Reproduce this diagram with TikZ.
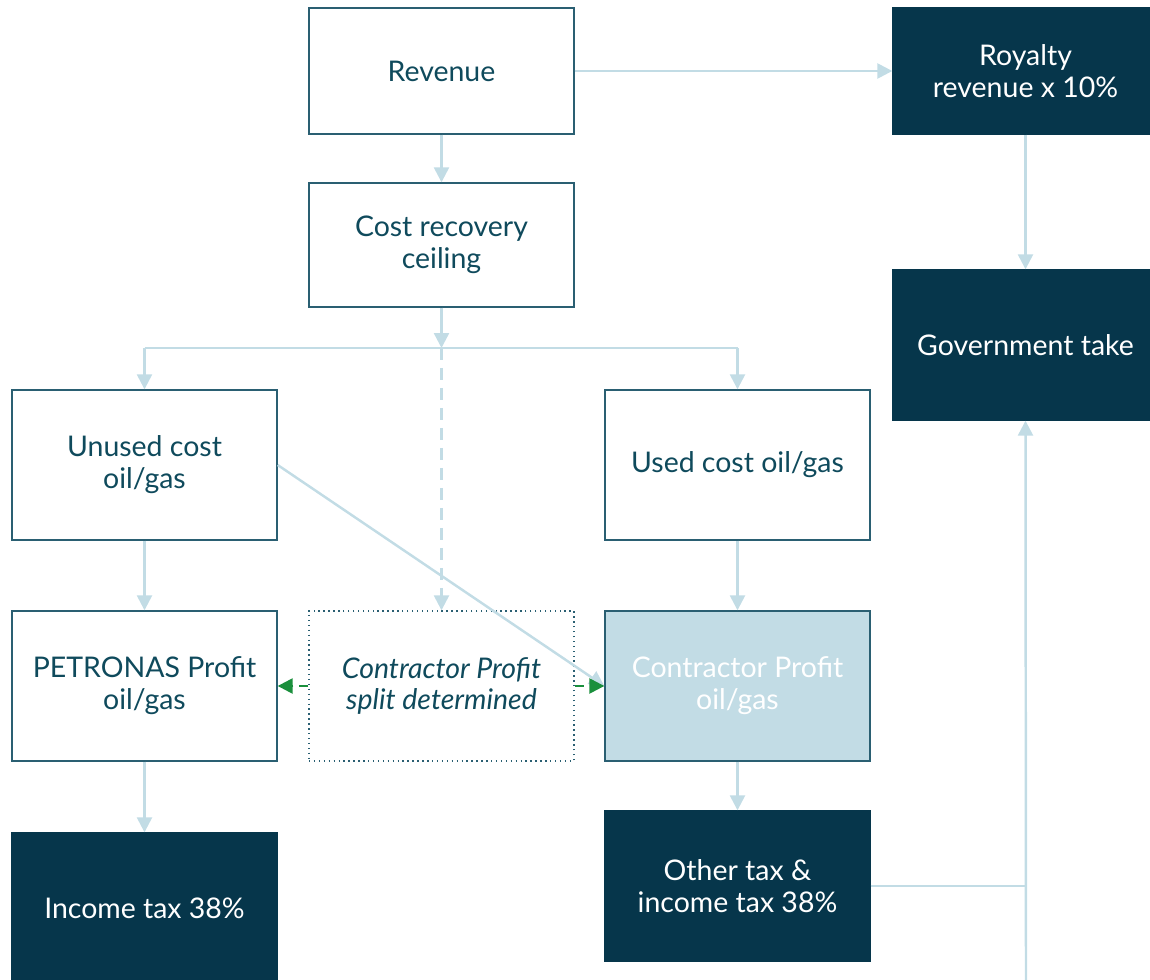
\documentclass[tikz,border=0pt]{standalone}
\usepackage{fontspec}
\setmainfont{Lato}
\usetikzlibrary{arrows.meta}

\definecolor{navy}{HTML}{06364B}
\definecolor{tealtext}{HTML}{0F4A5C}
\definecolor{boxline}{HTML}{2A5F72}
\definecolor{lightline}{HTML}{C2DCE5}
\definecolor{splitgreen}{HTML}{1A8F3C}

\tikzset{
  box/.style={draw=boxline, line width=0.8pt, minimum width=5.3cm, minimum height=3cm,
    align=center, text=tealtext, font=\fontsize{16.2}{18.2}\selectfont, inner sep=0pt},
  darkbox/.style={box, fill=navy, draw=navy, text=white},
  link/.style={lightline, line width=1.4pt},
  conn/.style={link, -{Triangle[length=0.3cm, width=0.3cm]}},
  greenconn/.style={splitgreen, line width=1.4pt, dash pattern=on 0.18cm off 0.12cm,
    -{Triangle[length=0.3cm, width=0.3cm]}}
}

\begin{document}
\begin{tikzpicture}[x=0.02cm, y=-0.02cm]
\useasboundingbox (0,0) rectangle (1150,980);

% top row
\node[box, minimum height=2.52cm] (revenue) at (441.5,71) {Revenue};
\node[box, minimum height=2.48cm] (ceiling) at (441.5,245) {Cost recovery\\ceiling};
\node[darkbox, minimum height=2.52cm] (royalty) at (1025.5,71) {Royalty\\revenue x 10\%};
\node[darkbox] (govtake) at (1025.5,345) {Government take};

% cost oil
\node[box] (unused) at (144.5,465) {Unused cost\\oil/gas};
\node[box] (used) at (737.5,465) {Used cost oil/gas};

% profit split
\node[box] (petronas) at (144.5,686) {PETRONAS Profit\\oil/gas};
\node[box, dotted, font=\fontsize{16.2}{18.2}\selectfont\itshape] (split) at (441.5,686) {Contractor Profit\\split determined};
\node[box, fill=lightline, text=white] (contractor) at (737.5,686) {Contractor Profit\\oil/gas};

% taxes
\node[darkbox] (incometax) at (144.5,908) {Income tax 38\%};
\node[darkbox] (othertax) at (737.5,886) {Other tax \&\\income tax 38\%};

\coordinate (fork) at (441.5,348);
\coordinate (govbase) at (1026,980);

\draw[conn] (revenue.east) -- (royalty.west);
\draw[conn] (royalty.south) -- (govtake.north);
\draw[conn] (revenue.south) -- (ceiling.north);
\draw[conn] (ceiling.south) -- (fork);
\draw[link] (unused.north |- fork) -- (used.north |- fork);
\draw[conn] (unused.north |- fork) -- (unused.north);
\draw[conn] (used.north |- fork) -- (used.north);
\draw[conn, dash pattern=on 0.24cm off 0.16cm] (fork) -- (split.north);
\draw[conn] (unused.east) -- (contractor.west);
\draw[conn] (unused.south) -- (petronas.north);
\draw[conn] (used.south) -- (contractor.north);
\draw[greenconn] (split.west) -- (petronas.east);
\draw[greenconn] (split.east) -- (contractor.west);
\draw[conn] (petronas.south) -- (incometax.north);
\draw[conn] (contractor.south) -- (othertax.north);
\draw[link] (othertax.east) -- (othertax.east -| govbase);
\draw[conn] (govbase) -- (govtake.south);

\end{tikzpicture}
\end{document}
